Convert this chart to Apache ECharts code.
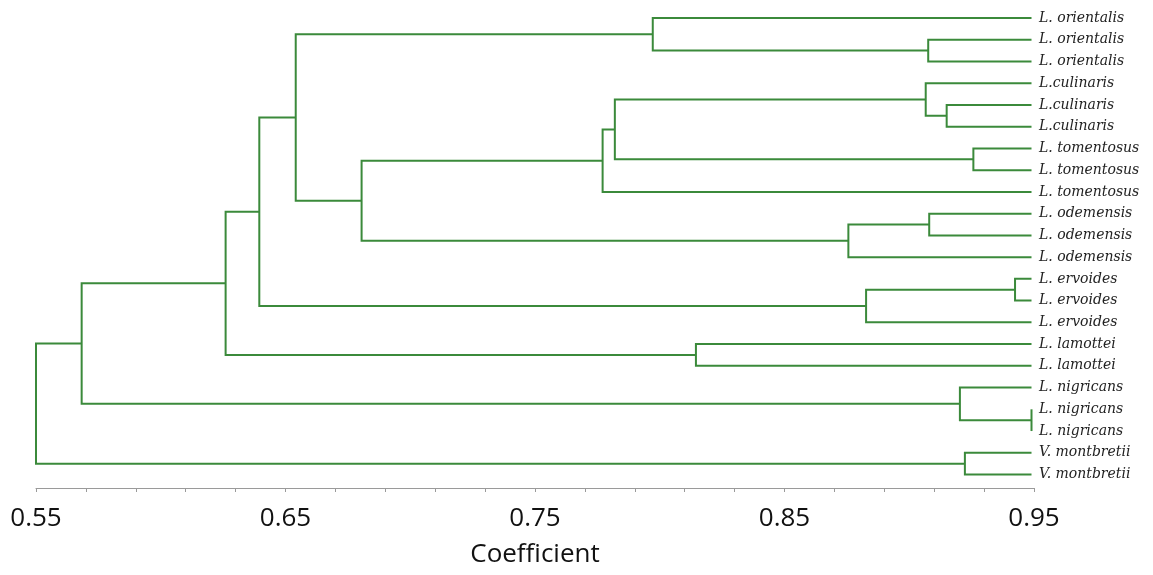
<!DOCTYPE html>
<html><head><meta charset="utf-8">
<script src="https://cdn.jsdelivr.net/npm/echarts@6/dist/echarts.min.js"></script>
<style>html,body{margin:0;padding:0;background:#fff}#c{width:1153px;height:575px}</style>
</head><body><div id="c"></div>
<script>
// Leaves, top to bottom
const leafNames = [
  'L. orientalis','L. orientalis','L. orientalis',
  'L.culinaris','L.culinaris','L.culinaris',
  'L. tomentosus','L. tomentosus','L. tomentosus',
  'L. odemensis','L. odemensis','L. odemensis',
  'L. ervoides','L. ervoides','L. ervoides',
  'L. lamottei','L. lamottei',
  'L. nigricans','L. nigricans','L. nigricans',
  'V. montbretii','V. montbretii'
];
const leafCoef = 0.949;
// Merge steps: node id = 22 + step index; children are leaf indices or earlier node ids
const mergeLeft  = [1, 0, 4, 3, 6, 25, 27, 9, 29, 28, 23, 12, 33, 32, 15, 35, 18, 17, 37, 20, 40];
const mergeRight = [2, 22, 5, 24, 7, 26, 8, 10, 11, 30, 31, 13, 14, 34, 16, 36, 19, 38, 39, 21, 41];
const mergeCoef  = [0.9076, 0.7972, 0.915, 0.9066, 0.9257, 0.782, 0.7771, 0.908, 0.8756, 0.6805,
                    0.6541, 0.9424, 0.8827, 0.6395, 0.8145, 0.626, 0.949, 0.9203, 0.5683, 0.9223, 0.55];
const xLabelValues = [0.55, 0.65, 0.75, 0.85, 0.95];

const nx = [], ny = [];
leafNames.forEach((n, i) => { nx.push(leafCoef); ny.push(i); });
const segs = [];
mergeCoef.forEach((h, k) => {
  const a = mergeLeft[k], b = mergeRight[k];
  segs.push({coords: [[nx[a], ny[a]], [h, ny[a]], [h, ny[b]], [nx[b], ny[b]]]});
  nx.push(h); ny.push((ny[a] + ny[b]) / 2);
});

const chart = echarts.init(document.getElementById('c'), null, {renderer: 'canvas'});
chart.setOption({
  animation: false,
  backgroundColor: '#fff',
  grid: {left: 36, right: 119, top: 18, bottom: 87, containLabel: false},
  xAxis: {
    type: 'value', position: 'bottom', min: 0.55, max: 0.95, interval: 0.02,
    axisLine: {show: true, onZero: false, lineStyle: {color: '#9a9a9a', width: 1}},
    axisTick: {show: true, length: 4, lineStyle: {color: '#9a9a9a'}},
    splitLine: {show: false},
    axisLabel: {
      margin: 18, fontSize: 26, color: '#111', fontFamily: 'Open Sans',
      formatter: v => xLabelValues.some(t => Math.abs(t - v) < 1e-6) ? v.toFixed(2) : ''
    },
    name: 'Coefficient', nameLocation: 'middle', nameGap: 54,
    nameTextStyle: {fontSize: 26, color: '#111', fontFamily: 'Open Sans'}
  },
  yAxis: {
    type: 'value', inverse: true, min: 0, max: 21.62, interval: 1, position: 'right',
    axisLine: {show: false}, axisTick: {show: false}, splitLine: {show: false},
    axisLabel: {
      margin: 5, fontSize: 14, color: '#222', fontFamily: 'DejaVu Serif', fontStyle: 'italic',
      padding: [0, 0, 5, 0],
      formatter: v => (Math.abs(v - Math.round(v)) < 1e-6 && leafNames[Math.round(v)]) ? leafNames[Math.round(v)] : ''
    }
  },
  series: [{
    type: 'lines', coordinateSystem: 'cartesian2d', polyline: true,
    lineStyle: {color: '#3b8a3b', width: 2, opacity: 1},
    data: segs
  }]
});
</script></body></html>
